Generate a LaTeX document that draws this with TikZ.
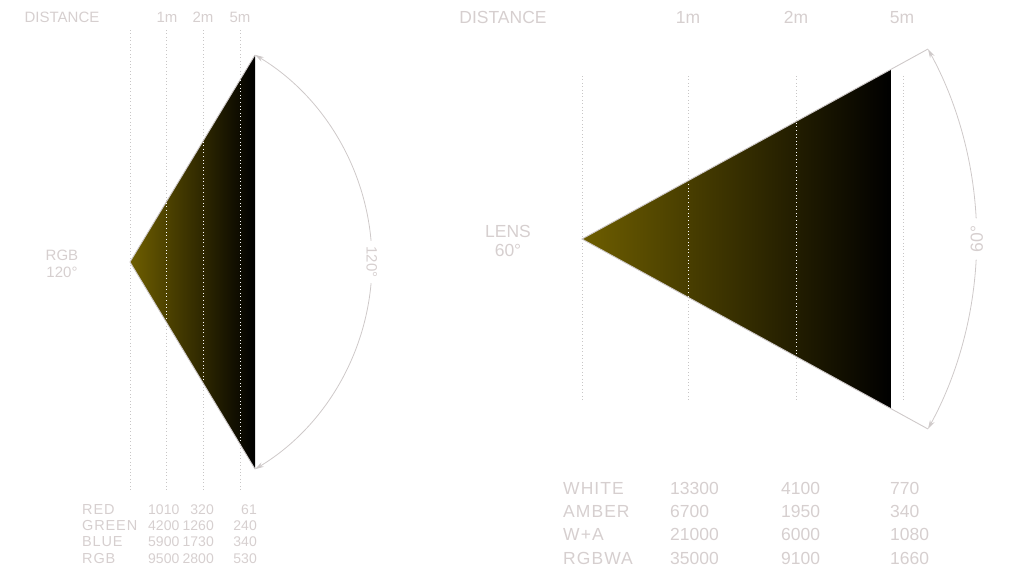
\documentclass[tikz,border=0pt]{standalone}
\usepackage{fontspec}
\setmainfont{Liberation Sans}
\newfontfamily\trackfont[LetterSpace=6]{Liberation Sans}
\usetikzlibrary{calc,arrows.meta}
\definecolor{txtgray}{RGB}{214,207,207}
\definecolor{dotgray}{RGB}{200,198,198}
\definecolor{arcgray}{RGB}{206,201,201}
\definecolor{lensolive}{RGB}{110,94,0}

\begin{document}
\begin{tikzpicture}[x=1pt,y=-1pt,
	lbl/.style={text=txtgray,font=\fontsize{15}{17}\selectfont,inner sep=0pt,text height=10.7pt,text depth=0pt},
	tbl/.style={text=txtgray,font=\fontsize{14.5}{16}\selectfont,inner sep=0pt,text height=10.3pt,text depth=0pt},
	tblnum/.style={tbl,font=\fontsize{14}{16}\selectfont},
	biglbl/.style={text=txtgray,font=\fontsize{17.5}{20}\selectfont,inner sep=0pt,text height=12.5pt,text depth=0pt},
	guide/.style={dotgray,line width=0.8pt,dash pattern=on 0.8pt off 2.6pt},
	guidein/.style={white,line width=1pt,dash pattern=on 1pt off 2.6pt},
	beam/.style={left color=lensolive,right color=black},
	rim/.style={arcgray,line width=0.9pt},
	span/.style={arcgray,line width=0.8pt,-{Stealth[length=9pt,width=5pt]}}]
				\useasboundingbox (0,0) rectangle (1024,576);
				
				\coordinate (lapex) at (130,262);
				\coordinate (ltop) at (255,55);
				\coordinate (lbot) at (255,469);
				
				\coordinate (rapex) at (582,239);
				\coordinate (rtip) at (928,49);
				\coordinate (rtail) at (928,429);
				\coordinate (rtop) at ($(rapex)!0.893!(rtip)$);
				\coordinate (rbot) at ($(rapex)!0.893!(rtail)$);
				
				\foreach \x in {130,166,203,240}{
					\draw[guide] (\x,30) -- (\x,490);}
				\foreach \x in {582,688,796,903}{
					\draw[guide] (\x,76) -- (\x,401);}
				
				\shade[beam] (lapex) -- (ltop) -- (lbot) -- cycle;
				\shade[beam] (rapex) -- (rtop) -- (rbot) -- cycle;
				
				\begin{scope}
					\clip (lapex) -- (ltop) -- (lbot) -- cycle;
					\foreach \x in {166,203,240}{
						\draw[guidein] (\x,30) -- (\x,490);}
				\end{scope}
				\begin{scope}
					\clip (rapex) -- (rtop) -- (rbot) -- cycle;
					\foreach \x in {688,796}{
						\draw[guidein] (\x,76) -- (\x,401);}
				\end{scope}
				
				\draw[rim] (ltop) -- (lapex) -- (lbot);
				\draw[rim] (rtip) -- (rapex) -- (rtail);
				
				\draw[span] ($(lapex)+(-5:242)$) arc[start angle=-5,end angle=-58.9,radius=242];
				\draw[span] ($(lapex)+(5:242)$) arc[start angle=5,end angle=58.9,radius=242];
				\draw[span] ($(rapex)+(-3:394.7)$) arc[start angle=-3,end angle=-28.77,radius=394.7];
				\draw[span] ($(rapex)+(3:394.7)$) arc[start angle=3,end angle=28.77,radius=394.7];
				
				\node[lbl,rotate=-90] (lspan) at (372,262) {120°};
				\node[biglbl,rotate=90] (rspan) at (976.7,239) {60°};
				
				\node[lbl] (ldist) at (62,17) {DISTANCE};
				\foreach \x/\d in {167/1m,203/2m,240/5m}{
					\node[lbl] (ld\d) at (\x,17) {\d};}
				\node[biglbl] (rdist) at (503,17) {DISTANCE};
				\foreach \x/\d in {688/1m,796/2m,902/5m}{
					\node[biglbl] (rd\d) at (\x,17) {\d};}
				
				\node[lbl] (lname) at (62,255) {RGB};
				\node[lbl] (lang) at (62,272) {120°};
				\node[biglbl] (rname) at (508,231) {LENS};
				\node[biglbl] (rang) at (508,250) {60°};
				
				\foreach \n/\a/\b/\c [count=\i from 0] in {RED/1010/320/61,GREEN/4200/1260/240,BLUE/5900/1730/340,RGB/9500/2800/530}{
					\node[tbl,anchor=west] (lrow\i) at (82,{509+16.4*\i}) {\trackfont\n};
					\node[tblnum,anchor=west] (lrow\i a) at (148,{509+16.4*\i}) {\a};
					\node[tblnum,anchor=east] (lrow\i b) at (214,{509+16.4*\i}) {\b};
					\node[tblnum,anchor=east] (lrow\i c) at (257,{509+16.4*\i}) {\c};}
				
				\foreach \n/\a/\b/\c [count=\i from 0] in {WHITE/13300/4100/770,AMBER/6700/1950/340,W+A/21000/6000/1080,RGBWA/35000/9100/1660}{
					\node[biglbl,anchor=west] (rrow\i) at (563,{488+23.3*\i}) {\trackfont\n};
					\node[biglbl,anchor=west] (rrow\i a) at (670,{488+23.3*\i}) {\a};
					\node[biglbl,anchor=west] (rrow\i b) at (781,{488+23.3*\i}) {\b};
					\node[biglbl,anchor=west] (rrow\i c) at (890,{488+23.3*\i}) {\c};}
			\end{tikzpicture}
\end{document}
